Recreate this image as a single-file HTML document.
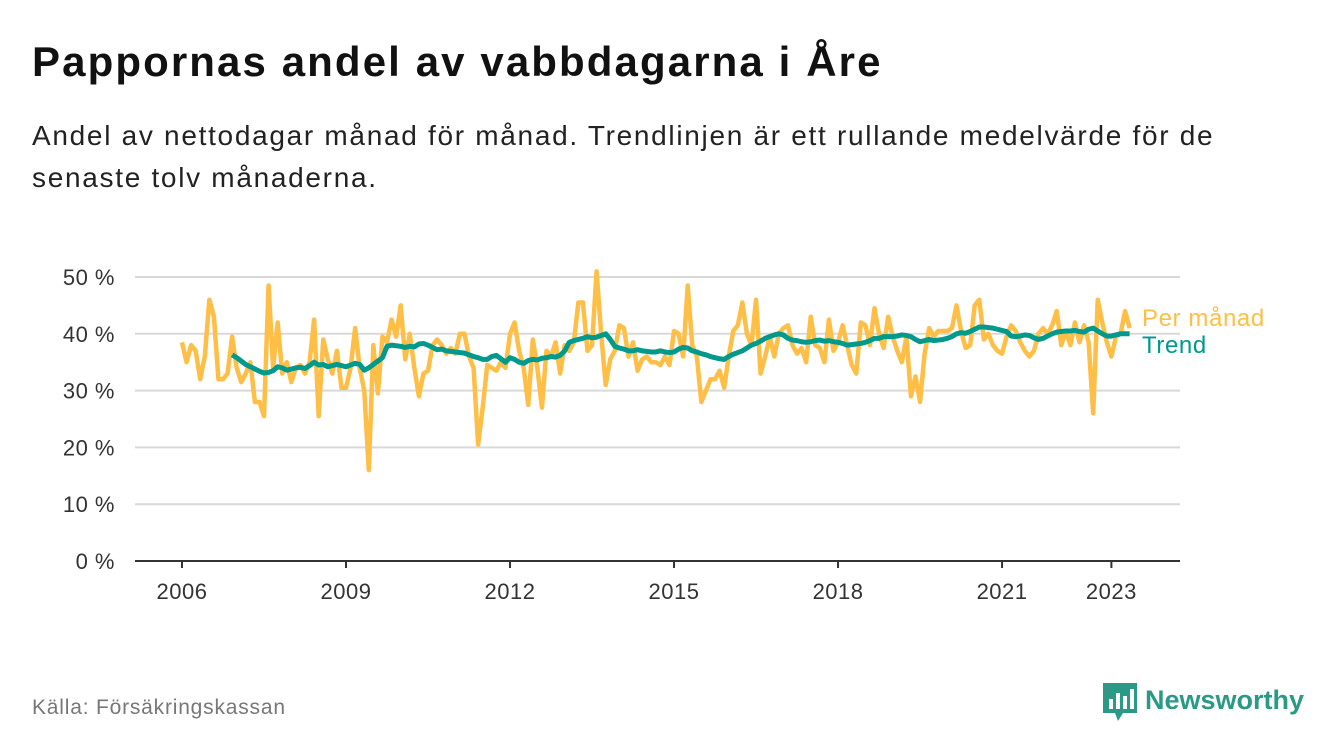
<!DOCTYPE html>
<html><head><meta charset="utf-8"><style>
body{margin:0;width:1340px;height:753px;background:#fff;font-family:"Liberation Sans",sans-serif;overflow:hidden;position:relative}
.t{position:absolute;white-space:nowrap}
</style></head><body>
<div class="t" style="left:32px;top:38px;font-size:42px;letter-spacing:2.1px;font-weight:bold;color:#111">Pappornas andel av vabbdagarna i Åre</div>
<div class="t" style="left:32px;top:115px;font-size:28px;letter-spacing:1.7px;line-height:42px;color:#222;white-space:normal;width:1280px">Andel av nettodagar månad för månad. Trendlinjen är ett rullande medelvärde för de<br>senaste tolv månaderna.</div>
<svg id="chart" width="1340" height="753" style="position:absolute;left:0;top:0"></svg>
<div class="t" style="left:32px;top:696px;font-size:21px;letter-spacing:0.8px;color:#777">Källa: Försäkringskassan</div>
<div class="t" style="left:1103px;top:683px;font-size:27px;font-weight:bold;color:#2a9a86">
<svg width="34" height="38" style="vertical-align:middle;margin-right:8px"><path d="M0 0H34V30H20L15 38L12 30H0Z" fill="#2a9a86"/><rect x="6" y="16" width="4" height="10" fill="#fff"/><rect x="13" y="10" width="4" height="16" fill="#fff"/><rect x="20" y="13" width="4" height="13" fill="#fff"/><rect x="27" y="6" width="4" height="20" fill="#fff"/></svg>Newsworthy</div>
<script>
const monthly=[38.5,35,38,37,32,36,46,43,32,32,33,39.5,
34,31.5,33,35,28,28,25.5,48.5,34,42,33,35,
31.5,34,34.5,33,35,42.5,25.5,39,35.5,33,37,30.5,
30.5,34,41,34,30,16,38,29.5,39.5,38.5,42.5,39.5,
45,35.5,40,34,29,33,33.5,38,39,38,36.5,37.5,
36.5,40,40,36,34,20.5,27,34.5,34,33.5,35,34,
40,42,37,34,27.5,39,34,27,37,36,38.5,33,
38,37,38.5,45.5,45.5,37,38,51,40,31,35.5,37,
41.5,41,36,38.5,33.5,35.5,36,35,35,34.5,36,34.5,
40.5,40,36,48.5,38,36,28,30,32,32,33.5,30.5,
36,40.5,41.5,45.5,40,38,46,33,36,39.5,36,40,
41,41.5,38,36.5,37.5,35,43,38,37.5,35,42.5,37,
38.5,41.5,38,34.5,33,42,41.5,38,44.5,40,37.5,43,
39.5,37,35,39.5,29,32.5,28,36.5,41,39.5,40.5,40.5,
40.5,41,45,40.5,37.5,38,45,46,39,40,38,37,
36.5,39.5,41.5,40.5,38.5,37,36,37,40,41,40,41.5,
44,38,40.5,38,42,38.5,41.5,38.5,26,46,42,38.5,
36,39.5,40,44,41];
const trendStart=11;
const trend=[36.3,
35.8,35.2,34.6,34.2,33.8,33.4,33.1,33.2,33.5,34.2,34,33.6,
33.8,34.0,34.1,33.9,34.4,35.0,34.5,34.6,34.2,34.4,34.6,34.4,
34.2,34.5,34.8,34.6,33.6,34.0,34.6,35.2,35.8,37.8,38.0,37.9,
37.8,37.6,37.8,37.7,38.2,38.3,38.0,37.6,37.2,37.3,37.0,36.9,
36.8,36.7,36.6,36.3,36.0,35.8,35.5,35.5,36.0,36.2,35.6,35.0,
35.8,35.5,35.0,34.8,35.3,35.5,35.4,35.7,35.8,36.0,35.9,36.2,
37.0,38.5,38.8,39.0,39.2,39.5,39.3,39.4,39.7,40.0,39.0,37.8,
37.5,37.3,37.0,37.0,37.2,37.0,36.9,36.8,36.8,37.0,36.8,36.7,
36.8,37.3,37.6,37.5,37.0,36.8,36.5,36.3,36.0,35.8,35.6,35.5,
36.0,36.4,36.7,37.0,37.5,38.0,38.3,38.7,39.2,39.5,39.8,40.0,
39.8,39.2,38.9,38.8,38.6,38.5,38.6,38.8,38.9,38.7,38.8,38.6,
38.5,38.3,38.0,38.1,38.2,38.3,38.5,38.8,39.2,39.2,39.5,39.5,
39.5,39.6,39.8,39.7,39.5,39.0,38.6,38.8,39.0,38.8,38.9,39.0,
39.2,39.5,40.0,40.2,40.1,40.4,40.8,41.2,41.2,41.1,41.0,40.8,
40.6,40.4,39.6,39.5,39.6,39.8,39.7,39.3,39.0,39.2,39.6,40.0,
40.3,40.4,40.5,40.5,40.6,40.4,40.3,40.8,41.0,40.5,40.0,39.6,
39.6,39.8,40.0,40.0,40.0];
const yTicks=[0,10,20,30,40,50];
const xTickYears=[2006,2009,2012,2015,2018,2021,2023];
const NS="http://www.w3.org/2000/svg";
const svg=document.getElementById('chart');
const x=m=>182+m*(54.67/12);
const y=v=>561-v*5.68;
function mk(t,a){const e=document.createElementNS(NS,t);for(const k in a)e.setAttribute(k,a[k]);svg.appendChild(e);return e;}
yTicks.forEach(v=>{
  if(v>0){const g=mk('line',{x1:135,x2:1180,y1:y(v),y2:y(v),stroke:'#d9d9d9','stroke-width':2});
  
  }
  const t=mk('text',{x:115,y:y(v)+8,'text-anchor':'end','font-size':22,'letter-spacing':0.5,fill:'#333','font-family':'Liberation Sans, sans-serif'});
  t.textContent=v+' %';
  
  
});
xTickYears.forEach(yr=>{
  const xx=x((yr-2006)*12);
  const tk=mk('line',{x1:xx,x2:xx,y1:561,y2:568,stroke:'#333','stroke-width':2});
  
  
  const t=mk('text',{x:xx,y:599,'text-anchor':'middle','font-size':22,'letter-spacing':0.5,fill:'#333','font-family':'Liberation Sans, sans-serif'});
  t.textContent=yr;
  
  
});
const base=mk('line',{x1:135,x2:1180,y1:561,y2:561,stroke:'#333','stroke-width':2});


const p1=mk('polyline',{points:monthly.map((v,i)=>x(i)+','+y(v)).join(' '),fill:'none',stroke:'#FFBE45','stroke-width':4.5,'stroke-linejoin':'round'});


const p2=mk('polyline',{points:trend.map((v,i)=>x(i+trendStart)+','+y(v)).join(' '),fill:'none',stroke:'#00998C','stroke-width':5,'stroke-linejoin':'round'});


const l1=mk('text',{x:1142,y:326,'font-size':24,'letter-spacing':0.6,fill:'#FFBE45','font-family':'Liberation Sans, sans-serif'});
l1.textContent='Per månad';


const l2=mk('text',{x:1142,y:353,'font-size':24,'letter-spacing':0.6,fill:'#00998C','font-family':'Liberation Sans, sans-serif'});
l2.textContent='Trend';


</script>
</body></html>
